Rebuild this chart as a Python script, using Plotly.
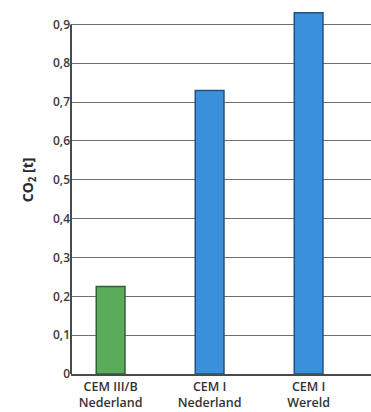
import plotly.graph_objects as go

# CO2 emission per tonne of cement
categories = ["CEM III/B<br>Nederland", "CEM I<br>Nederland", "CEM I<br>Wereld"]
co2_tonnes = [0.225, 0.73, 0.93]
bar_colors = ["#5aac5a", "#3b90dc", "#3b90dc"]
bar_edges = ["#2f5f33", "#24507c", "#24507c"]

tick_values = [0, 0.1, 0.2, 0.3, 0.4, 0.5, 0.6, 0.7, 0.8, 0.9]
tick_labels = ["0", "0,1", "0,2", "0,3", "0,4", "0,5", "0,6", "0,7", "0,8", "0,9"]

ytick_font = dict(family="Open Sans", size=12, color="#3a3a3a", weight=600)
xtick_font = dict(family="Open Sans", size=12.5, color="#333333", weight=600)

fig = go.Figure(
    go.Bar(
        x=categories,
        y=co2_tonnes,
        width=0.29,
        marker=dict(color=bar_colors, line=dict(color=bar_edges, width=1.5)),
    )
)

fig.update_layout(
    width=371,
    height=412,
    margin=dict(l=71, r=0, t=5, b=38),
    paper_bgcolor="white",
    plot_bgcolor="white",
    showlegend=False,
    font=ytick_font,
    xaxis=dict(
        range=[-0.4, 2.63],
        showgrid=False,
        showline=True,
        linecolor="#4a4a4a",
        linewidth=2,
        ticks="",
        tickfont=xtick_font,
        ticklabelstandoff=0,
        automargin=False,
        fixedrange=True,
    ),
    yaxis=dict(
        range=[0, 0.95],
        tickvals=tick_values,
        ticktext=tick_labels,
        showgrid=True,
        gridcolor="#6e6e6e",
        gridwidth=1.4,
        zeroline=False,
        showline=False,
        ticks="",
        tickfont=ytick_font,
        automargin=False,
        fixedrange=True,
    ),
    shapes=[
        dict(
            type="line",
            xref="paper",
            yref="y",
            x0=0,
            x1=0,
            y0=0,
            y1=0.9,
            line=dict(color="#4a4a4a", width=2),
        )
    ],
    annotations=[
        dict(
            text="CO<sub>2</sub> [t]",
            xref="paper",
            yref="y",
            x=0,
            y=0.5,
            xshift=-55,
            textangle=-90,
            showarrow=False,
            font=dict(family="Open Sans", size=14, color="#2a2a2a", weight=700),
        )
    ],
)

fig.write_html("out.html")
